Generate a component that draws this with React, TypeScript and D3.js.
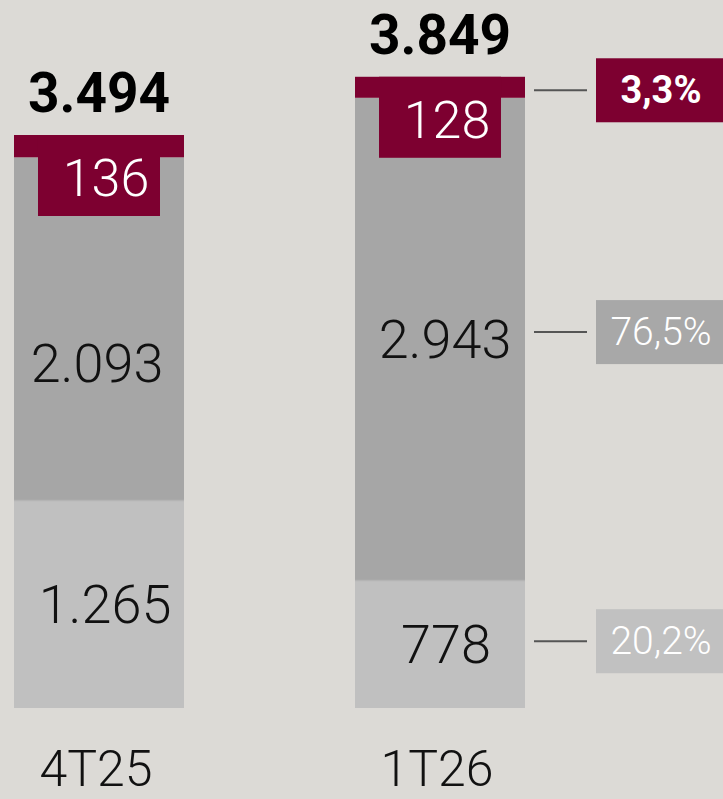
import { useEffect, useRef } from "react";
import * as d3 from "d3";

const periods = ["4T25", "1T26"];
const baseValues = [1265, 778];
const midValues = [2093, 2943];
const topValues = [136, 128];
const shareLabels = ["20,2%", "76,5%", "3,3%"];

const fmt = (v: number) => d3.format(",")(v).replace(/,/g, ".");

export default function App() {
  const ref = useRef<SVGSVGElement | null>(null);
  const width = 723;
  const height = 799;

  useEffect(() => {
    const svg = d3.select(ref.current);
    svg.selectAll("*").remove();

    const font = "Roboto, 'Open Sans', sans-serif";
    const bottom = 708;
    const k = 573 / 3494;

    svg.append("rect").attr("width", width).attr("height", height).attr("fill", "#dcdad6");

    const x = d3.scaleBand<string>().domain(periods).range([14, 525]).paddingInner(0.5015).paddingOuter(0);
    const y = d3.scaleLinear().domain([0, 4000]).range([bottom, bottom - 4000 * k]);
    const bw = x.bandwidth();

    const rows = periods.map((p, i) => {
      const b = baseValues[i];
      const m = midValues[i];
      const t = topValues[i];
      return { p, b, m, t, total: b + m + t, x0: x(p) ?? 0 };
    });

    // nudges so labels sit like the original (dark label in bar 1 sits below the box)
    const midNudge = [34, 0];
    const midShift = [-2, 5];

    rows.forEach((r, i) => {
      const cx = r.x0 + bw / 2;
      const yB = y(r.b);
      const yM = y(r.b + r.m);
      const yT = y(r.total);

      // light base
      svg.append("rect").attr("x", r.x0).attr("y", yB).attr("width", bw).attr("height", bottom - yB).attr("fill", "#c0c0c0");
      // dark middle
      svg.append("rect").attr("x", r.x0).attr("y", yM).attr("width", bw).attr("height", yB - yM).attr("fill", "#a6a6a6");
      svg.append("line").attr("x1", r.x0).attr("x2", r.x0 + bw).attr("y1", yB).attr("y2", yB).attr("stroke", "#b4b4b4").attr("stroke-width", 1.5);
      // maroon top + label box
      svg.append("rect").attr("x", r.x0).attr("y", yT).attr("width", bw).attr("height", yM - yT).attr("fill", "#7d0030");
      svg.append("rect").attr("x", cx - 61).attr("y", yT).attr("width", 122).attr("height", 81).attr("fill", "#7d0030");

      svg.append("text")
        .attr("x", cx + 7).attr("y", yT + 61)
        .attr("text-anchor", "middle").attr("font-family", font).attr("font-weight", 300)
        .attr("font-size", 52).attr("fill", "#fff").text(fmt(r.t));

      svg.append("text")
        .attr("x", cx + midShift[i]).attr("y", (yM + yB) / 2 + midNudge[i] + 19)
        .attr("text-anchor", "middle").attr("font-family", font).attr("font-weight", 300)
        .attr("font-size", 54).attr("fill", "#111").text(fmt(r.m));

      svg.append("text")
        .attr("x", cx + 6).attr("y", (yB + bottom) / 2 + 19)
        .attr("text-anchor", "middle").attr("font-family", font).attr("font-weight", 300)
        .attr("font-size", 54).attr("fill", "#111").text(fmt(r.b));

      // total
      svg.append("text")
        .attr("x", cx).attr("y", yT - 23)
        .attr("text-anchor", "middle").attr("font-family", font).attr("font-weight", 700)
        .attr("font-size", 55).attr("fill", "#000").text(fmt(r.total));

      // period label
      svg.append("text")
        .attr("x", cx - 3).attr("y", 786)
        .attr("text-anchor", "middle").attr("font-family", font).attr("font-weight", 300)
        .attr("font-size", 50).attr("fill", "#111").text(r.p);
    });

    // share callouts for the latest period
    const last = rows[rows.length - 1];
    const segMids = [
      (y(0) + y(last.b)) / 2 - 3,
      (y(last.b) + y(last.b + last.m)) / 2 - 7,
      (y(last.b + last.m) + y(last.total)) / 2 + 3,
    ];
    const boxFill = ["#c1c1c1", "#a8a8a8", "#7d0030"];
    segMids.forEach((my, j) => {
      svg.append("line").attr("x1", 534).attr("x2", 587).attr("y1", my).attr("y2", my).attr("stroke", "#555").attr("stroke-width", 2);
      svg.append("rect").attr("x", 596).attr("y", my - 32).attr("width", 140).attr("height", 64).attr("fill", boxFill[j]);
      svg.append("text")
        .attr("x", 661).attr("y", my + 13)
        .attr("text-anchor", "middle").attr("font-family", font)
        .attr("font-weight", j === 2 ? 700 : 300)
        .attr("font-size", j === 2 ? 38 : 39).attr("fill", "#fff").text(shareLabels[j]);
    });
  }, []);

  return (
    <svg
      ref={ref}
      width={width}
      height={height}
      style={{ position: "absolute", top: 0, left: 0, display: "block" }}
    />
  );
}
